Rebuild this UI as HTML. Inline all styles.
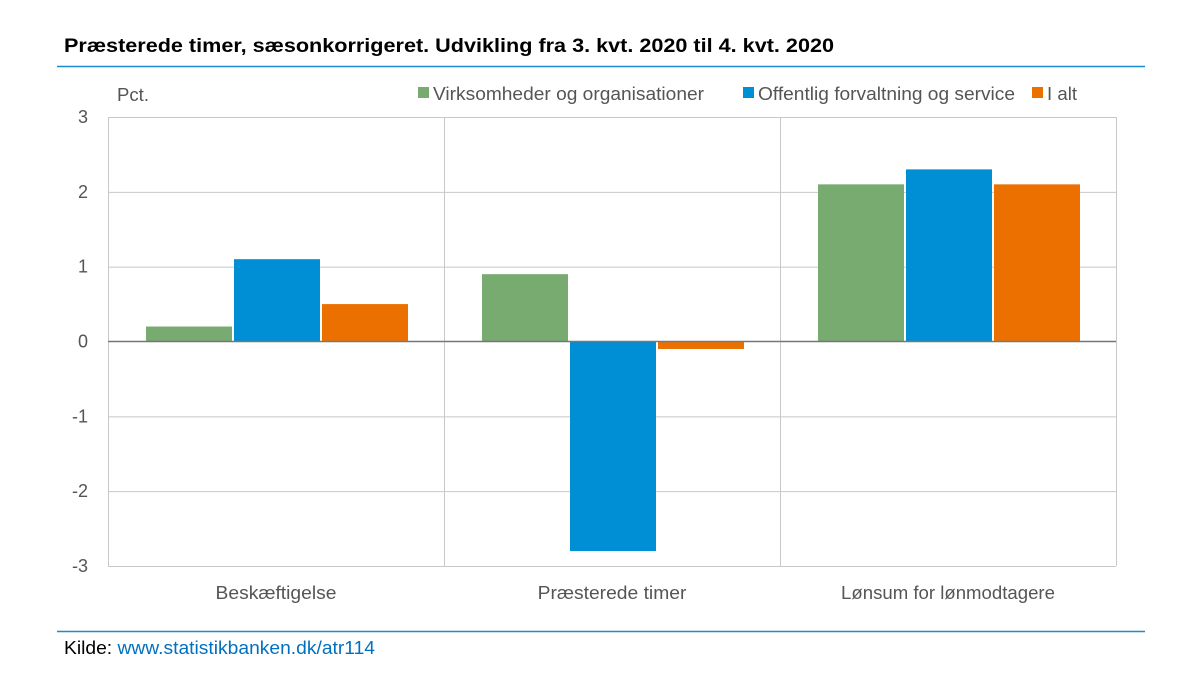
<!DOCTYPE html>
<html><head><meta charset="utf-8"><style>
body{margin:0;background:#fff;font-family:"Liberation Sans",Arial,sans-serif;}
svg text{font-family:"Liberation Sans",Arial,sans-serif;}
</style></head><body>
<svg id="chart" width="1200" height="685" xmlns="http://www.w3.org/2000/svg">
<text x="64" y="52" font-size="19" font-weight="bold" fill="#000" textLength="770" lengthAdjust="spacingAndGlyphs">Præsterede timer, sæsonkorrigeret. Udvikling fra 3. kvt. 2020 til 4. kvt. 2020</text>
<line x1="57" y1="66.5" x2="1145" y2="66.5" stroke="#1a8ccc" stroke-width="1.5"/>
<text x="117" y="101" font-size="18" fill="#555" textLength="32" lengthAdjust="spacingAndGlyphs">Pct.</text>
<g id="legend"></g>
<g id="grid"></g>
<g id="bars"></g>
<g id="labels"></g>
<line x1="57" y1="631.5" x2="1145" y2="631.5" stroke="#1a8ccc" stroke-width="1.5"/>
<text x="64" y="654" font-size="18" fill="#000" textLength="311" lengthAdjust="spacingAndGlyphs">Kilde: <tspan fill="#0070c0">www.statistikbanken.dk/atr114</tspan></text>
</svg>
<script>
const categories=["Beskæftigelse","Præsterede timer","Lønsum for lønmodtagere"];
const seriesNames=["Virksomheder og organisationer","Offentlig forvaltning og service","I alt"];
const virksomheder=[0.2,0.9,2.1];
const offentlig=[1.1,-2.8,2.3];
const iAlt=[0.5,-0.1,2.1];
const yTicks=[3,2,1,0,-1,-2,-3];
const colors=["#77ab6f","#008fd5","#ec7000"];
const series=[virksomheder,offentlig,iAlt];
const NS="http://www.w3.org/2000/svg";
const L=108,R=1116,T=117,B=566,yMin=-3,yMax=3;
const y=v=>T+(yMax-v)/(yMax-yMin)*(B-T);
const cw=(R-L)/categories.length;
const x=i=>L+i*cw;
function mk(tag,attrs,parent,txt){const e=document.createElementNS(NS,tag);for(const k in attrs)e.setAttribute(k,attrs[k]);if(txt!==undefined)e.textContent=txt;parent.appendChild(e);return e;}
const grid=document.getElementById('grid'),bars=document.getElementById('bars'),labels=document.getElementById('labels'),legend=document.getElementById('legend');
yTicks.forEach(t=>{
 if(t!==0){const g=mk('line',{x1:L,x2:R,y1:y(t)+0.5,y2:y(t)+0.5,stroke:'#c8c8c8','stroke-width':1},grid);
 }
 const lb=mk('text',{x:88,y:y(t)+6,'font-size':18,fill:'#555','text-anchor':'end'},labels,String(t));
 
});
for(let i=0;i<=categories.length;i++){const g=mk('line',{x1:x(i)+0.5,x2:x(i)+0.5,y1:T,y2:B,stroke:'#c8c8c8','stroke-width':1},grid);
 }
const bw=86,gap=2,off=38;
categories.forEach((c,i)=>{
 series.forEach((s,j)=>{
  const v=s[i];const bx=x(i)+off+j*(bw+gap);
  const r=mk('rect',{x:bx,y:Math.min(y(v),y(0)),width:bw,height:Math.abs(y(v)-y(0)),fill:colors[j]},bars);
  
 });
 const lb=mk('text',{x:x(i)+cw/2,y:599,'font-size':18,fill:'#555','text-anchor':'middle','textLength':c.length*9.3,'lengthAdjust':'spacingAndGlyphs'},labels,c);
 
});
const z=mk('line',{x1:L,x2:R,y1:y(0),y2:y(0),stroke:'#777','stroke-width':1.5},bars);

const lx=[418,743,1032];
const lw=[271,257,30];
seriesNames.forEach((n,j)=>{
 const r=mk('rect',{x:lx[j],y:87,width:11,height:11,fill:colors[j]},legend);
 
 const t=mk('text',{x:lx[j]+15,y:100,'font-size':18,fill:'#555','textLength':lw[j],'lengthAdjust':'spacingAndGlyphs'},legend,n);
 
});
</script>
</body></html>
